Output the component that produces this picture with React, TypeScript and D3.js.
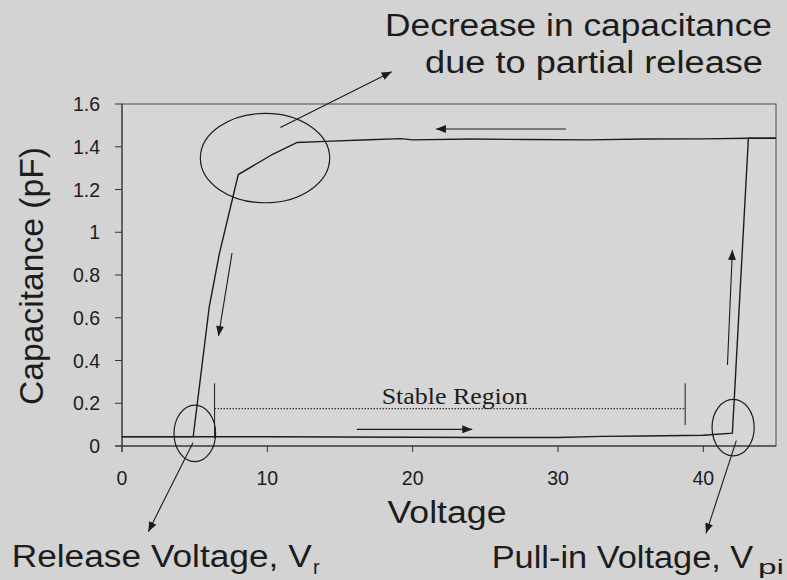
import React from "react";
import * as d3 from "d3";

// ---- data ----
const forwardV = [0, 5, 10, 15, 20, 25, 30, 33, 36, 40, 42.0, 43.1, 45];
const forwardC = [0.043, 0.043, 0.043, 0.042, 0.041, 0.04, 0.04, 0.045, 0.047, 0.05, 0.06, 1.44, 1.44];
const backwardV = [45, 43.1, 40, 36, 32, 28, 24, 20, 19.2, 17, 14, 12.05, 10.4, 8.0, 6.7, 6.0, 4.9, 3, 0];
const backwardC = [1.44, 1.44, 1.437, 1.436, 1.432, 1.434, 1.436, 1.432, 1.438, 1.433, 1.425, 1.42, 1.366, 1.27, 0.9, 0.65, 0.044, 0.044, 0.044];
const xTicks = [0, 10, 20, 30, 40];
const yTicks = [0, 0.2, 0.4, 0.6, 0.8, 1, 1.2, 1.4, 1.6];
const yTickLabels = ["0", "0.2", "0.4", "0.6", "0.8", "1", "1.2", "1.4", "1.6"];

// ellipses: [centerV, centerC, radiusV, radiusC]
const ellipses = [
  [9.84, 1.347, 4.45, 0.209],
  [5.01, 0.059, 1.43, 0.132],
  [42.05, 0.086, 1.45, 0.132],
];
// in-plot arrows: [fromV, fromC, toV, toC]
const plotArrows = [
  [30.55, 1.483, 21.6, 1.483],
  [7.57, 0.902, 6.64, 0.515],
  [16.16, 0.078, 24.1, 0.078],
  [41.66, 0.379, 42.0, 0.917],
];
// stable region
const stableLeftV = 6.37;
const stableRightV = 38.75;
const stableC = 0.175;

const W = 787, H = 580;
const x = d3.scaleLinear().domain([0, 45]).range([122, 776]);
const y = d3.scaleLinear().domain([0, 1.6]).range([446, 104]);

const line = d3.line<[number, number]>().x(d => x(d[0])).y(d => y(d[1]));
const fwd = forwardV.map((v, i) => [v, forwardC[i]] as [number, number]);
const bwd = backwardV.map((v, i) => [v, backwardC[i]] as [number, number]);

const SANS = "'Liberation Sans', Arial, sans-serif";
const SERIF = "'Liberation Serif', 'Times New Roman', serif";
const INK = "#1c1c1c";

export default function App() {
  return (
    <svg width={W} height={H} style={{ position: "absolute", left: 0, top: 0 }}>
      <defs>
        <marker id="ah" viewBox="0 0 10 8" refX="10" refY="4" markerWidth="10" markerHeight="8" markerUnits="userSpaceOnUse" orient="auto">
          <path d="M0,0 L10,4 L0,8 Z" fill={INK} />
        </marker>
      </defs>
      <rect x={0} y={0} width={W} height={H} fill="#d3d3d3" />
      <rect x={x(0)} y={y(1.6)} width={x(45) - x(0)} height={y(0) - y(1.6)} fill="#d6d6d6" stroke="#4a4a4a" strokeWidth={1} />
      {/* axes */}
      <line x1={x(0)} x2={x(0)} y1={y(0) + 6} y2={y(1.6)} stroke="#333" />
      <line x1={x(0) - 7} x2={x(45)} y1={y(0)} y2={y(0)} stroke="#333" />
      {yTicks.map((t, i) => (
        <g key={"y" + i}>
          <line x1={x(0) - 7} x2={x(0)} y1={y(t)} y2={y(t)} stroke="#333" />
          <text x={100} y={y(t)} dy="0.36em" textAnchor="end" fontFamily={SANS} fontSize={19.5} fill={INK}>{yTickLabels[i]}</text>
        </g>
      ))}
      {xTicks.map((t, i) => (
        <g key={"x" + i}>
          <line x1={x(t)} x2={x(t)} y1={y(0)} y2={y(0) + 6} stroke="#333" />
          <text x={x(t)} y={485} textAnchor="middle" fontFamily={SANS} fontSize={19.5} fill={INK}>{t}</text>
        </g>
      ))}
      {/* curves */}
      <path d={line(fwd) || ""} fill="none" stroke={INK} strokeWidth={1.4} />
      <path d={line(bwd) || ""} fill="none" stroke={INK} strokeWidth={1.4} />
      {/* ellipses */}
      {ellipses.map((e, i) => (
        <ellipse key={"e" + i} cx={x(e[0])} cy={y(e[1])} rx={x(e[2]) - x(0)} ry={y(0) - y(e[3])} fill="none" stroke={INK} strokeWidth={1.2} />
      ))}
      {/* in-plot arrows */}
      {plotArrows.map((a, i) => (
        <line key={"a" + i} x1={x(a[0])} y1={y(a[1])} x2={x(a[2])} y2={y(a[3])} stroke={INK} strokeWidth={1.1} markerEnd="url(#ah)" />
      ))}
      {/* stable region */}
      <line x1={x(stableLeftV)} x2={x(stableLeftV)} y1={y(0.293)} y2={y(0.036)} stroke={INK} strokeWidth={1} />
      <line x1={x(stableRightV)} x2={x(stableRightV)} y1={y(0.293)} y2={y(0.098)} stroke={INK} strokeWidth={1} />
      <line x1={x(stableLeftV)} x2={x(stableRightV)} y1={y(stableC)} y2={y(stableC)} stroke={INK} strokeWidth={1.3} strokeDasharray="1.3,1.7" />
      <text x={381.7} y={404.3} fontFamily={SERIF} fontSize={24} fill={INK} textLength={146} lengthAdjust="spacingAndGlyphs">Stable Region</text>
      {/* annotation arrows leaving the plot */}
      <line x1={x(10.9)} y1={y(1.49)} x2={391.7} y2={71.7} stroke={INK} strokeWidth={1.1} markerEnd="url(#ah)" />
      <line x1={x(4.88)} y1={y(0.015)} x2={148.3} y2={531.7} stroke={INK} strokeWidth={1.1} markerEnd="url(#ah)" />
      <line x1={x(42.27)} y1={y(0.025)} x2={706} y2={533.3} stroke={INK} strokeWidth={1.1} markerEnd="url(#ah)" />
      {/* titles and annotation texts */}
      <text x={385} y={36} fontFamily={SANS} fontSize={31} fill={INK} textLength={387} lengthAdjust="spacingAndGlyphs">Decrease in capacitance</text>
      <text x={425} y={73} fontFamily={SANS} fontSize={31} fill={INK} textLength={338} lengthAdjust="spacingAndGlyphs">due to partial release</text>
      <text x={387.5} y={523} fontFamily={SANS} fontSize={31} fill={INK} textLength={119} lengthAdjust="spacingAndGlyphs">Voltage</text>
      <text transform="translate(43,276) rotate(-90)" textAnchor="middle" fontFamily={SANS} fontSize={33} fill={INK} textLength={258} lengthAdjust="spacingAndGlyphs">Capacitance (pF)</text>
      <text x={11.7} y={567} fontFamily={SANS} fontSize={31} fill={INK} textLength={300} lengthAdjust="spacingAndGlyphs">Release Voltage, V</text>
      <text x={313} y={574} fontFamily={SANS} fontSize={20} fill={INK}>r</text>
      <text x={491.7} y={568} fontFamily={SANS} fontSize={31} fill={INK} textLength={261.6} lengthAdjust="spacingAndGlyphs">Pull-in Voltage, V</text>
      <text x={758} y={574} fontFamily={SANS} fontSize={20} fill={INK} textLength={26} lengthAdjust="spacingAndGlyphs">pi</text>
    </svg>
  );
}
